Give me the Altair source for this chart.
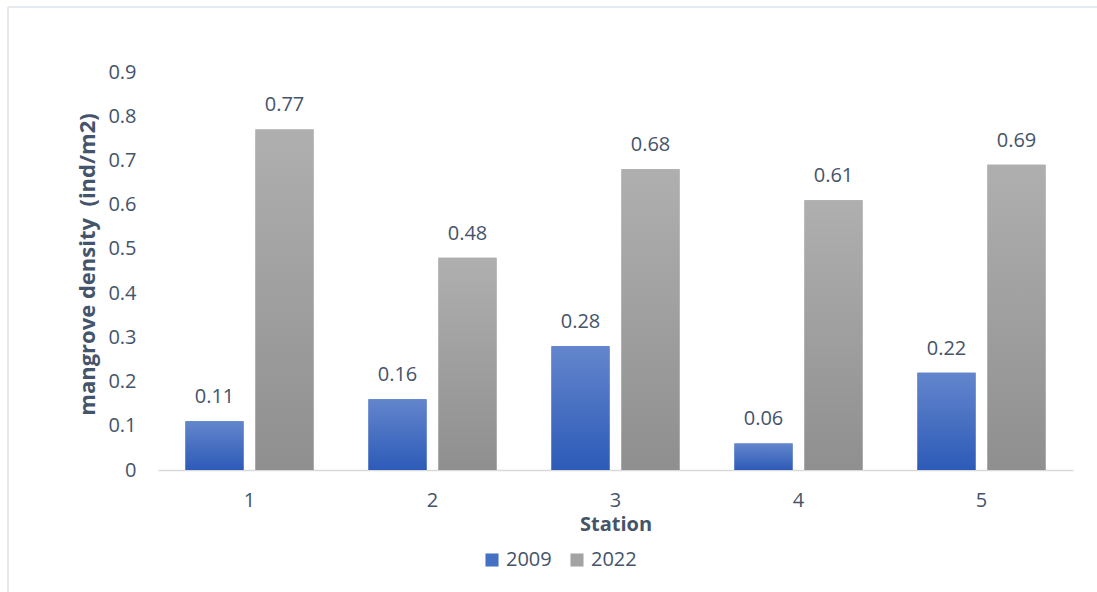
import altair as alt
import pandas as pd

# Mangrove density per station, surveyed in 2009 and 2022
stations = ["1", "2", "3", "4", "5"]
density_2009 = [0.11, 0.16, 0.28, 0.06, 0.22]
density_2022 = [0.77, 0.48, 0.68, 0.61, 0.69]
years = ["2009", "2022"]
y_ticks = [0, 0.1, 0.2, 0.3, 0.4, 0.5, 0.6, 0.7, 0.8, 0.9]

rows = []
for st, a, b in zip(stations, density_2009, density_2022):
    rows.append({"station": st, "year": years[0], "density": a})
    rows.append({"station": st, "year": years[1], "density": b})
df = pd.DataFrame(rows)

FONT = "Open Sans"
TEXT = "#44546A"
BLUE_SOLID = "#4571c4"
GRAY_SOLID = "#a3a3a3"

blue_grad = alt.Gradient(
    gradient="linear", x1=0, y1=0, x2=0, y2=1,
    stops=[alt.GradientStop(color="#6385cc", offset=0),
           alt.GradientStop(color="#2d5bb8", offset=1)],
)
gray_grad = alt.Gradient(
    gradient="linear", x1=0, y1=0, x2=0, y2=1,
    stops=[alt.GradientStop(color="#afafaf", offset=0),
           alt.GradientStop(color="#8f8f8f", offset=1)],
)

x_enc = alt.X(
    "station:N", sort=stations,
    scale=alt.Scale(paddingInner=0.3, paddingOuter=0.15),
    axis=alt.Axis(
        title="Station", labelAngle=0, ticks=False, grid=False,
        domainColor="#d9d9d9", domainWidth=1.5,
        labelFont=FONT, labelFontSize=20, labelColor=TEXT, labelPadding=20,
        titleFont=FONT, titleFontSize=20, titleFontWeight="bold",
        titleColor=TEXT, titlePadding=4,
    ),
)
xo_enc = alt.XOffset("year:N", sort=years,
                     scale=alt.Scale(paddingInner=0.17, paddingOuter=0))
y_enc = alt.Y(
    "density:Q",
    scale=alt.Scale(domain=[0, 0.9], nice=False),
    axis=alt.Axis(
        title="mangrove density \u00a0(ind/m2)", values=y_ticks, format="~g",
        domain=False, ticks=False, grid=False,
        labelFont=FONT, labelFontSize=20, labelColor=TEXT, labelPadding=22,
        titleFont=FONT, titleFontSize=22, titleFontWeight="bold",
        titleColor=TEXT, titlePadding=8, titleY=192,
    ),
)

base = alt.Chart(df)

# Solid bars carry the legend; gradient bars are drawn on top of them
legend_bars = base.mark_bar().encode(
    x=x_enc, xOffset=xo_enc, y=y_enc,
    color=alt.Color(
        "year:N", sort=years,
        scale=alt.Scale(domain=years, range=[BLUE_SOLID, GRAY_SOLID]),
        legend=alt.Legend(
            title=None, orient="none", direction="horizontal",
            legendX=324, legendY=478,
            symbolType="square", symbolSize=170, symbolStrokeWidth=0,
            labelFont=FONT, labelFontSize=20, labelColor=TEXT,
            labelOffset=4, columnPadding=15,
        ),
    ),
)

bars_2009 = base.transform_filter(alt.datum.year == "2009").mark_bar(
    fill=blue_grad).encode(x=x_enc, xOffset=xo_enc, y=y_enc)
bars_2022 = base.transform_filter(alt.datum.year == "2022").mark_bar(
    fill=gray_grad).encode(x=x_enc, xOffset=xo_enc, y=y_enc)

labels = base.mark_text(
    font=FONT, fontSize=20, color=TEXT, baseline="alphabetic", dy=-18,
).encode(x=x_enc, xOffset=xo_enc, y=y_enc,
         text=alt.Text("density:Q", format=".2f"))

# Thin outer frame around the chart
frame_src = alt.Chart(pd.DataFrame({"k": [0]}))
frame_top = frame_src.mark_rule(color="#dde3ea", strokeWidth=1.5).encode(
    x=alt.value(-150), x2=alt.value(960), y=alt.value(-65))
frame_left = frame_src.mark_rule(color="#dde3ea", strokeWidth=1.5).encode(
    x=alt.value(-150), y=alt.value(-65), y2=alt.value(540))

chart = alt.layer(
    legend_bars, bars_2009, bars_2022, labels, frame_top, frame_left
).properties(
    width=915, height=398,
    autosize=alt.AutoSizeParams(type="none"),
    padding={"left": 158, "top": 72, "right": 24, "bottom": 122},
    background="white",
).configure_view(stroke=None)

chart.save("out.html", embed_options={"renderer": "svg", "actions": False})
